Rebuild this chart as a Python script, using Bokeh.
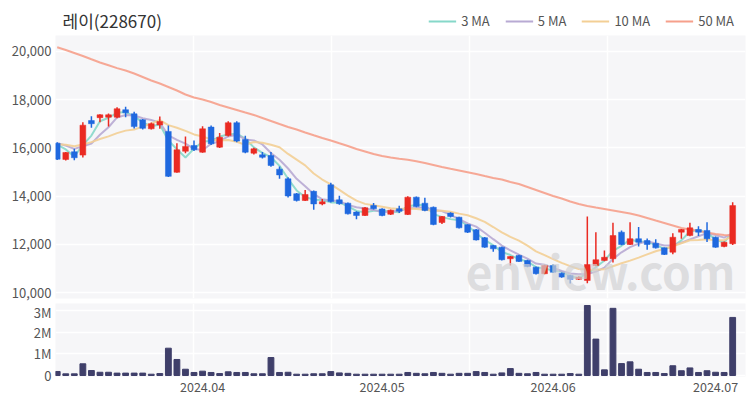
from bokeh.plotting import figure
from bokeh.layouts import column
from bokeh.models import (Range1d, FixedTicker, NumeralTickFormatter, Legend,
                          LegendItem, Label, ColumnDataSource)
from bokeh.core.properties import value
from bokeh.embed import file_html
from bokeh.resources import INLINE
import numpy as np

title_text = "레이(228670)"

dates = [
    "2024-03-07", "2024-03-08", "2024-03-11", "2024-03-12", "2024-03-13", "2024-03-14", "2024-03-15",
    "2024-03-18", "2024-03-19", "2024-03-20", "2024-03-21", "2024-03-22", "2024-03-25", "2024-03-26",
    "2024-03-27", "2024-03-28", "2024-03-29",
    "2024-04-01", "2024-04-02", "2024-04-03", "2024-04-04", "2024-04-05", "2024-04-08", "2024-04-09",
    "2024-04-11", "2024-04-12", "2024-04-15", "2024-04-16", "2024-04-17", "2024-04-18", "2024-04-19",
    "2024-04-22", "2024-04-23", "2024-04-24", "2024-04-25", "2024-04-26", "2024-04-29", "2024-04-30",
    "2024-05-02", "2024-05-03", "2024-05-07", "2024-05-08", "2024-05-09", "2024-05-10", "2024-05-13",
    "2024-05-14", "2024-05-16", "2024-05-17", "2024-05-20", "2024-05-21", "2024-05-22", "2024-05-23",
    "2024-05-24", "2024-05-27", "2024-05-28", "2024-05-29", "2024-05-30", "2024-05-31",
    "2024-06-03", "2024-06-04", "2024-06-05", "2024-06-07", "2024-06-10", "2024-06-11", "2024-06-12",
    "2024-06-13", "2024-06-14", "2024-06-17", "2024-06-18", "2024-06-19", "2024-06-20", "2024-06-21",
    "2024-06-24", "2024-06-25", "2024-06-26", "2024-06-27", "2024-06-28",
    "2024-07-01", "2024-07-02", "2024-07-03",
]

opens = [16190, 15520, 15840, 15700, 17130, 17250, 17270, 17270, 17580, 17410,
         17160, 16790, 16950, 16680, 14990, 15860, 16100, 15820, 16860, 16030,
         16510, 17040, 16350, 15780, 15710, 15680, 15120, 14720, 14100, 13820,
         14200, 13680, 14470, 13850, 13710, 13340, 13200, 13610, 13470, 13250,
         13480, 13240, 13960, 13710, 13540, 12910, 13300, 13130, 12820, 12610,
         12280, 11960, 11890, 11410, 11545, 11340, 11060, 10790, 11130, 10810,
         10720, 10560, 10510, 11130, 11340, 11410, 12510, 12000, 12240, 12160,
         12050, 11860, 11680, 12510, 12370, 12620, 12580, 12300, 11920, 12030]
highs = [16230, 15830, 15960, 17060, 17310, 17390, 17420, 17680, 17700, 17500,
         17200, 17050, 17300, 16930, 16190, 16470, 16300, 16900, 16930, 16620,
         17100, 17100, 16500, 16000, 15830, 15830, 15230, 14780, 14130, 14260,
         14230, 13880, 14560, 14020, 13740, 13380, 13550, 13720, 13500, 13450,
         13600, 14000, 13990, 13930, 13570, 13180, 13330, 13150, 12840, 12640,
         12310, 11980, 11910, 11520, 11580, 11370, 11090, 11160, 11180, 10840,
         10750, 10680, 13160, 12510, 11750, 12900, 12580, 12920, 12720, 12250,
         12220, 11880, 12470, 12640, 12900, 12760, 12920, 12330, 12120, 13750]
lows = [15500, 15480, 15490, 15600, 16830, 17060, 16880, 17230, 17270, 16800,
        16760, 16760, 16790, 14790, 14970, 15780, 15870, 15800, 16120, 15990,
        16470, 16230, 15780, 15730, 15560, 15220, 14720, 13950, 13780, 13800,
        13440, 13620, 13740, 13650, 13240, 13050, 13180, 13450, 13170, 13220,
        13300, 13220, 13540, 13380, 12800, 12850, 13120, 12660, 12480, 12160,
        11860, 11700, 11340, 11130, 11270, 11060, 10760, 10770, 10820, 10620,
        10380, 10530, 10400, 11100, 11310, 11250, 11970, 11980, 11920, 11780,
        11830, 11560, 11600, 12240, 12340, 12350, 12100, 11860, 11890, 11980]
closes = [15530, 15810, 15590, 16940, 17000, 17370, 17370, 17620, 17450, 16880,
          16810, 17000, 17090, 14820, 15920, 16060, 15920, 16790, 16170, 16440,
          17040, 16280, 15820, 15960, 15610, 15270, 14880, 14010, 13820, 14070,
          13680, 13770, 13780, 13690, 13270, 13200, 13520, 13480, 13200, 13420,
          13380, 13960, 13570, 13410, 12830, 13160, 13160, 12690, 12510, 12190,
          11890, 11820, 11370, 11500, 11300, 11090, 10790, 11130, 10850, 10650,
          10560, 10640, 11170, 11370, 11470, 12370, 12000, 12240, 12090, 12000,
          11860, 11590, 12300, 12620, 12690, 12510, 12240, 11890, 12090, 13610]
volumes = [185000, 77000, 77000, 540000, 230000, 150000, 150000, 110000, 110000, 110000,
           110000, 60000, 90000, 1260000, 740000, 290000, 140000, 200000, 140000, 90000,
           170000, 140000, 140000, 80000, 80000, 830000, 140000, 150000, 60000, 60000,
           80000, 80000, 180000, 120000, 100000, 60000, 60000, 60000, 60000, 60000,
           60000, 140000, 100000, 80000, 140000, 100000, 60000, 100000, 100000, 180000,
           140000, 60000, 120000, 320000, 100000, 80000, 140000, 60000, 60000, 60000,
           90000, 60000, 3230000, 1680000, 260000, 3100000, 550000, 630000, 290000, 140000,
           140000, 90000, 450000, 220000, 350000, 140000, 220000, 150000, 140000, 2680000]
ma50 = [20168, 20052, 19928, 19803, 19667, 19534, 19419, 19302, 19203, 19079,
        18934, 18789, 18665, 18520, 18375, 18210, 18085, 18003, 17899, 17775,
        17671, 17568, 17464, 17361, 17237, 17113, 16988, 16864, 16761, 16636,
        16521, 16409, 16305, 16189, 16078, 15953, 15850, 15746, 15664, 15601,
        15548, 15506, 15444, 15374, 15291, 15208, 15134, 15063, 14993, 14918,
        14835, 14753, 14691, 14587, 14504, 14380, 14256, 14132, 14008, 13904,
        13780, 13676, 13594, 13531, 13469, 13407, 13345, 13283, 13200, 13097,
        12993, 12890, 12786, 12683, 12621, 12559, 12496, 12434, 12393, 12372]
prior_closes = [16100, 16150, 16200, 16050, 16100, 16250, 16300, 16400, 16460]

price_ticks = [10000, 12000, 14000, 16000, 18000, 20000]
volume_ticks = [0, 1000000, 2000000, 3000000]
volume_tick_labels = ["0", "1M", "2M", "3M"]
ma_names = ["3 MA", "5 MA", "10 MA", "50 MA"]

ma_colors = {"3 MA": "#86d8c9", "5 MA": "#b8aad3", "10 MA": "#f3cf95", "50 MA": "#f6a08b"}
UP = "#ea2a22"
DOWN = "#1f68df"
VOL = "#3f3f6a"
BG = "#f6f6f8"
FONT = "Noto Sans CJK KR"
W = 750
HEAD_H = 35
FRAME_L = 55
FRAME_R = 745

n = len(dates)
x = np.arange(n)
o = np.array(opens, float)
h = np.array(highs, float)
l = np.array(lows, float)
c = np.array(closes, float)
allc = np.concatenate([np.array(prior_closes, float), c])


def rolling(k):
    off = len(prior_closes)
    return [allc[off + i - k + 1: off + i + 1].mean() for i in range(n)]


ma_values = {"3 MA": rolling(3), "5 MA": rolling(5), "10 MA": rolling(10), "50 MA": ma50}

up = c >= o
colors = [UP if u else DOWN for u in up]
src = ColumnDataSource(dict(x=x, top=np.maximum(o, c), bottom=np.minimum(o, c),
                            high=h, low=l, color=colors, vol=volumes))

month_idx = [i for i in range(1, n) if dates[i][5:7] != dates[i - 1][5:7]]
month_labels = {i: dates[i][:7].replace("-", ".") for i in month_idx}

xr = Range1d(-0.2, 80.5)
span = xr.end - xr.start
vgrid = [xr.start + span * k / 5 for k in range(1, 5)]


def style_axis(a, standoff, size="13px"):
    a.axis_line_color = None
    a.major_tick_line_color = None
    a.minor_tick_line_color = None
    a.major_tick_out = 0
    a.major_tick_in = 0
    a.minor_tick_out = 0
    a.minor_tick_in = 0
    a.major_label_standoff = standoff
    a.major_label_text_font = FONT
    a.major_label_text_font_size = size
    a.major_label_text_color = "#555555"


# ---------- header (title + legend) ----------
# the column aligns this frame with the charts below (page x 55..745)
hd = figure(width=W, height=HEAD_H, x_range=Range1d(FRAME_L, FRAME_R), y_range=Range1d(0, HEAD_H),
            output_backend="svg", toolbar_location=None, x_axis_location=None, y_axis_location=None,
            min_border_left=FRAME_L, min_border_right=W - FRAME_R, min_border_top=0, min_border_bottom=0)
hd.outline_line_color = None
hd.background_fill_color = "white"
hd.border_fill_color = "white"
hd.xgrid.visible = False
hd.ygrid.visible = False
hd.text(x=[62], y=[15], text=[title_text], text_font=value(FONT), text_font_size="17px",
        text_color="#333333", text_baseline="middle", text_align="left")
# legend renderers: the MA series themselves (they fall outside this header's ranges)
keys = [hd.line(x, ma_values[k], line_color=ma_colors[k], line_width=2) for k in ma_names]
legend = Legend(items=[LegendItem(label=k, renderers=[r]) for k, r in zip(ma_names, keys)],
                orientation="horizontal", location="top_right")
legend.background_fill_alpha = 0
legend.border_line_color = None
legend.label_text_font = FONT
legend.label_text_font_size = "13px"
legend.label_text_color = "#555555"
legend.glyph_width = 28
legend.glyph_height = 14
legend.label_standoff = 5
legend.spacing = 15
legend.padding = 2
legend.margin = 11
hd.add_layout(legend)

# ---------- price ----------
p = figure(width=W, height=267, x_range=xr, y_range=Range1d(9764, 20652),
           output_backend="svg", toolbar_location=None, x_axis_location=None,
           min_border_left=FRAME_L, min_border_right=W - FRAME_R, min_border_top=0, min_border_bottom=4)
p.background_fill_color = BG
p.border_fill_color = "white"
p.outline_line_color = None
p.ygrid.ticker = FixedTicker(ticks=price_ticks)
p.xgrid.ticker = FixedTicker(ticks=vgrid)
for g in (p.xgrid, p.ygrid):
    g.grid_line_color = "white"
    g.grid_line_width = 1.5
ax = p.yaxis[0]
ax.ticker = FixedTicker(ticks=price_ticks)
ax.formatter = NumeralTickFormatter(format="0,0")
style_axis(ax, 4)

p.add_layout(Label(x=79.3, y=10960, text="enview.com", text_font=FONT, text_font_size="46px",
                   text_font_style="bold", text_color="#d2d2d4", text_alpha=0.7,
                   text_align="right", text_baseline="middle"))

for key in ma_names:
    p.line(x, ma_values[key], line_color=ma_colors[key], line_width=2, line_alpha=0.9)

p.segment(x0="x", y0="high", x1="x", y1="low", color="color", line_width=1.5, source=src)
p.vbar(x="x", width=0.68, top="top", bottom="bottom", fill_color="color", line_color="color",
       line_width=0.5, source=src)

# ---------- volume ----------
v = figure(width=W, height=95, x_range=xr, y_range=Range1d(-46000, 3323000),
           output_backend="svg", toolbar_location=None,
           min_border_left=FRAME_L, min_border_right=W - FRAME_R, min_border_top=1, min_border_bottom=21)
v.background_fill_color = BG
v.border_fill_color = "white"
v.outline_line_color = None
v.vbar(x="x", width=0.68, top="vol", bottom=0, fill_color=VOL, line_color=VOL, source=src)
v.ygrid.ticker = FixedTicker(ticks=volume_ticks)
v.xgrid.ticker = FixedTicker(ticks=vgrid)
for g in (v.xgrid, v.ygrid):
    g.grid_line_color = "white"
    g.grid_line_width = 1.5
vy = v.yaxis[0]
vy.ticker = FixedTicker(ticks=volume_ticks)
vy.major_label_overrides = {t: s for t, s in zip(volume_ticks, volume_tick_labels)}
style_axis(vy, 4)
vx = v.xaxis[0]
vx.ticker = FixedTicker(ticks=month_idx)
vx.major_label_overrides = month_labels
style_axis(vx, 5, "12.5px")

layout = column(hd, p, v, spacing=0)
open("out.html", "w").write(file_html(layout, INLINE))
